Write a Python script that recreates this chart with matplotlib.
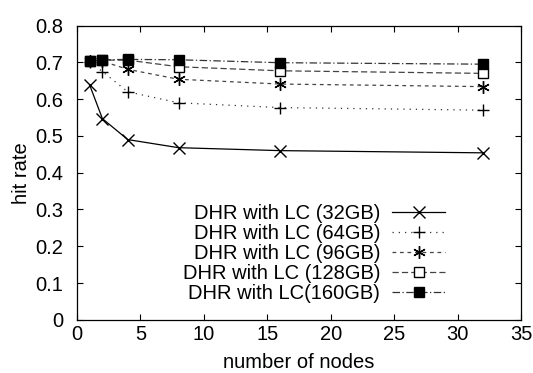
import numpy as np
import matplotlib
matplotlib.use("Agg")
import matplotlib.pyplot as plt

plt.rcParams['font.family'] = ['Liberation Sans', 'DejaVu Sans']

nodes = [1, 2, 4, 8, 16, 32]
hr_32 = [0.638, 0.547, 0.490, 0.468, 0.460, 0.454]
hr_64 = [0.700, 0.675, 0.620, 0.590, 0.577, 0.570]
hr_96 = [0.703, 0.703, 0.681, 0.654, 0.641, 0.634]
hr_128 = [0.703, 0.706, 0.706, 0.688, 0.677, 0.670]
hr_160 = [0.703, 0.707, 0.708, 0.707, 0.699, 0.695]
labels = ['DHR with LC (32GB)', 'DHR with LC (64GB)', 'DHR with LC (96GB)',
          'DHR with LC (128GB)', 'DHR with LC(160GB)']

fig = plt.figure(figsize=(5.33, 3.73), dpi=100)
ax = fig.add_axes([0.1445, 0.1425, 0.833, 0.789])

ax.plot(nodes, hr_32, color='black', lw=0.9, marker='x', ms=8, mew=1.0,
        label=labels[0])
ax.plot(nodes, hr_64, color='#333333', lw=0.9, ls=(0, (1, 4)), marker='+', ms=9,
        mew=1.0, mec='black', label=labels[1])
ax.plot(nodes, hr_96, color='#444444', lw=0.9, ls=(0, (3, 3)), marker=(6, 2, 0),
        ms=9, mew=1.0, mec='black', label=labels[2])
ax.plot(nodes, hr_128, color='#444444', lw=0.9, ls=(0, (5, 2.5)), marker='s', ms=7,
        mew=1.0, mec='black', mfc='white', label=labels[3])
ax.plot(nodes, hr_160, color='#333333', lw=0.9, ls=(0, (6, 2, 1, 2)), marker='s',
        ms=7, mew=1.0, mec='black', mfc='black', label=labels[4])

ax.set_xlim(0, 35)
ax.set_ylim(0, 0.8)
ax.set_xticks(np.arange(0, 36, 5))
ax.set_yticks(np.arange(0, 0.81, 0.1))
ax.set_yticklabels(['0', '0.1', '0.2', '0.3', '0.4', '0.5', '0.6', '0.7', '0.8'])
ax.tick_params(direction='in', top=True, right=True, labelsize=14.5, length=4)
ax.tick_params(axis='x', pad=4)
ax.tick_params(axis='y', pad=10)
for s in ax.spines.values():
    s.set_linewidth(0.9)

ax.set_xlabel('number of nodes', fontsize=14.5, labelpad=6.5)
ax.set_ylabel('hit rate', fontsize=14.5, labelpad=3)

ax.legend(loc='lower right', bbox_to_anchor=(0.86, 0.01), frameon=False,
          markerfirst=False, fontsize=14.5, handlelength=2.6, labelspacing=0.05,
          handletextpad=0.6, borderpad=0.2)

fig.savefig('out.png', dpi=100)
